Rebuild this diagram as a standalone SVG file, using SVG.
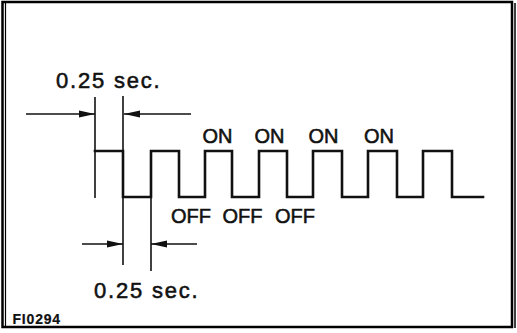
<svg xmlns="http://www.w3.org/2000/svg" width="517" height="333" viewBox="0 0 517 333">
<defs>
<style>
.frame{fill:none;stroke:#000;stroke-width:2.5}
.wave{fill:none;stroke:#111;stroke-width:2.6;stroke-linejoin:miter;stroke-linecap:square}
.ext{fill:none;stroke:#111;stroke-width:1.6}
.dim{fill:none;stroke:#111;stroke-width:1.4}
.lbl{font-family:"Liberation Sans",Arial,sans-serif;fill:#111;stroke:#111;stroke-width:0.55}
.big{font-size:22px;letter-spacing:1.8px}
.mid{font-size:20px;text-anchor:middle}
.code{font-size:14px;font-weight:bold;letter-spacing:0.8px;stroke-width:0.2}
</style>
<marker id="ah" viewBox="0 0 16 8" refX="16" refY="4" markerWidth="16" markerHeight="8" markerUnits="userSpaceOnUse" orient="auto">
<path d="M0,0.5 L16,4 L0,7.5 Z" fill="#111"/>
</marker>
</defs>
<g id="frame">
<rect class="frame" x="2.5" y="2" width="509.5" height="325"/>
<line x1="5.5" y1="3" x2="5.5" y2="326" stroke="#000" stroke-width="1.2"/>
<line x1="515" y1="3" x2="515" y2="328" stroke="#000" stroke-width="1.5"/>
</g>
<g id="waveform">
<path class="wave" d="M95,151 H123 V197 H151 V151 H179 V197 H205 V151 H232 V197 H259 V151 H287 V197 H313 V151 H342 V197 H368 V151 H397 V197 H423 V151 H452 V197 H483"/>
</g>
<g id="connectors">
<line class="ext" x1="95" y1="97" x2="95" y2="198"/>
<line class="ext" x1="123" y1="96" x2="123" y2="265"/>
<line class="ext" x1="151" y1="151" x2="151" y2="271"/>
<line class="dim" x1="26" y1="114" x2="95" y2="114" marker-end="url(#ah)"/>
<line class="dim" x1="191" y1="114" x2="124" y2="114" marker-end="url(#ah)"/>
<line class="dim" x1="82" y1="244" x2="123" y2="244" marker-end="url(#ah)"/>
<line class="dim" x1="197" y1="244" x2="151" y2="244" marker-end="url(#ah)"/>
</g>
<g id="label-top">
<text class="lbl big" x="56" y="88">0.25 sec.</text>
</g>
<g id="label-bottom">
<text class="lbl big" x="94" y="298">0.25 sec.</text>
</g>
<g id="label-on">
<text class="lbl mid" x="217.5" y="142.5">ON</text>
<text class="lbl mid" x="269.5" y="142.5">ON</text>
<text class="lbl mid" x="323.5" y="142.5">ON</text>
<text class="lbl mid" x="379" y="142.5">ON</text>
</g>
<g id="label-off">
<text class="lbl mid" x="191" y="222.5">OFF</text>
<text class="lbl mid" x="242.5" y="222.5">OFF</text>
<text class="lbl mid" x="295" y="222.5">OFF</text>
</g>
<g id="code">
<text class="lbl code" x="12.5" y="324">FI0294</text>
</g>
</svg>
